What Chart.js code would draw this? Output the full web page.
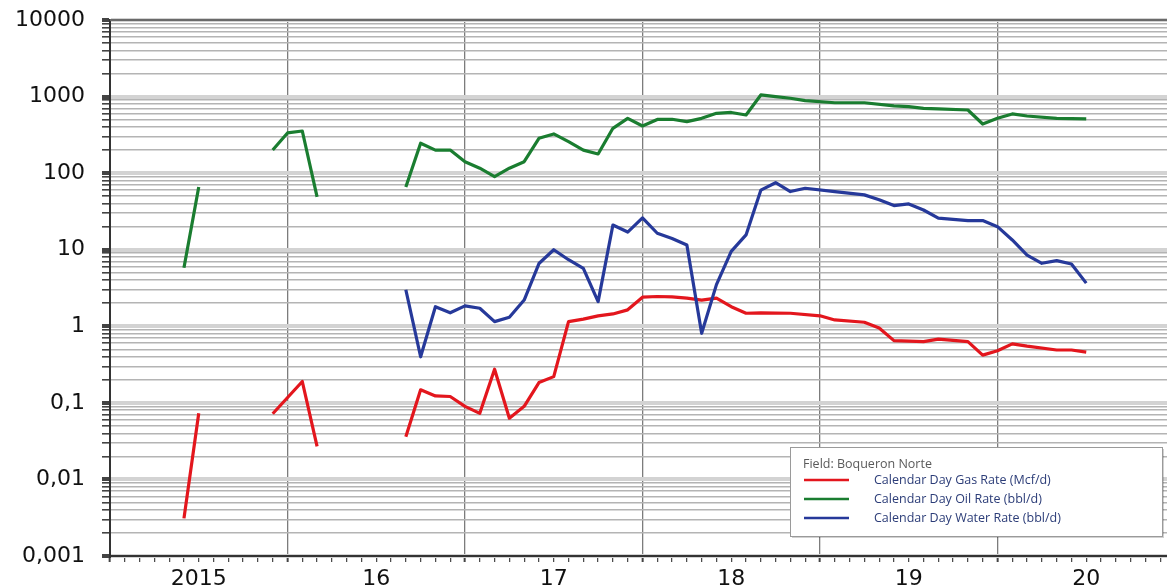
<!DOCTYPE html>
<html>
<head>
<meta charset="utf-8">
<script src="https://cdn.jsdelivr.net/npm/chart.js@4"></script>
<style>
  html, body { margin: 0; padding: 0; background: #fff; }
</style>
</head>
<body>
<canvas id="myChart" width="1167" height="587"></canvas>
<script>
// Months counted from Jan 2015 (0 = Jan 2015). null breaks the line (no production).
const gasMonths = [5, 6, 8, 11, 13, 14, 17,
  20, 21, 22, 23, 24, 25, 26, 27, 28, 29, 30, 31, 32, 33, 34, 35, 36, 37, 38, 39, 40, 41, 42, 43, 44,
  46, 48, 49, 51, 52, 53, 55, 56, 58, 59, 60, 61, 62, 64, 65, 66];
const gasRates = [0.0031, 0.073, null, 0.072, 0.19, 0.027, null,
  0.036, 0.148, 0.123, 0.121, 0.09, 0.073, 0.275, 0.063, 0.09, 0.184, 0.22, 1.15, 1.24, 1.37, 1.45, 1.64, 2.4, 2.45, 2.42, 2.33, 2.2, 2.33, 1.8, 1.48, 1.5,
  1.48, 1.37, 1.21, 1.13, 0.95, 0.65, 0.63, 0.68, 0.63, 0.42, 0.48, 0.59, 0.55, 0.49, 0.49, 0.46];

const oilMonths = [5, 6, 8, 11, 12, 13, 14, 17,
  20, 21, 22, 23, 24, 25, 26, 27, 28, 29, 30, 31, 32, 33, 34, 35, 36, 37, 38, 39, 40, 41, 42, 43, 44, 45, 46, 47,
  49, 51, 53, 54, 55, 56, 58, 59, 60, 61, 62, 64, 66];
const oilRates = [5.8, 66, null, 201, 335, 355, 49, null,
  66, 246, 200, 200, 141, 116, 90, 116, 141, 285, 325, 258, 200, 178, 385, 520, 413, 503, 505, 470, 520, 605, 620, 575, 1050, 1000, 950, 885,
  830, 830, 754, 740, 703, 690, 668, 438, 520, 593, 558, 520, 510];

const waterMonths = [20, 21, 22, 23, 24, 25, 26, 27, 28, 29, 30, 31, 32, 33, 34, 35, 36, 37, 38, 39, 40, 41, 42, 43, 44, 45, 46, 47,
  49, 51, 52, 53, 54, 55, 56, 58, 59, 60, 61, 62, 63, 64, 65, 66];
const waterRates = [3.0, 0.40, 1.8, 1.5, 1.85, 1.72, 1.15, 1.31, 2.2, 6.6, 10, 7.4, 5.7, 2.1, 21, 17, 26, 16.4, 14, 11.5, 0.81, 3.5, 9.5, 15.6, 60, 75, 57.5, 63.5,
  57.5, 52, 45, 37.7, 39.6, 33, 25.8, 24, 24, 20, 13.4, 8.5, 6.65, 7.2, 6.5, 3.66];

// Axis labels
const yearLabels = ["2015", "16", "17", "18", "19", "20"];
const decadeLabels = { "-3": "0,001", "-2": "0,01", "-1": "0,1", "0": "1", "1": "10", "2": "100", "3": "1000", "4": "10000" };
const legendTitle = "Field: Boqueron Norte";

function toPoints(months, rates) {
  return months.map((m, i) => ({ x: m, y: rates[i] }));
}

function isDecade(v) {
  let l = Math.log10(v);
  return Math.abs(l - Math.round(l)) < 1e-9;
}

// top frame line + legend box drawn on the canvas
const framePlugin = {
  id: 'frame',
  afterDraw(chart) {
    let ctx = chart.ctx;
    let a = chart.chartArea;
    ctx.save();
    ctx.strokeStyle = '#6a6a6a';
    ctx.lineWidth = 2;
    ctx.beginPath();
    ctx.moveTo(a.left, a.top);
    ctx.lineTo(a.right, a.top);
    ctx.stroke();

    // legend
    let bx = 790, by = 447, bw = 372, bh = 89;
    ctx.fillStyle = 'rgba(0,0,0,0.18)';
    ctx.fillRect(bx + 2, by + 2, bw, bh);
    ctx.fillStyle = '#fff';
    ctx.fillRect(bx, by, bw, bh);
    ctx.strokeStyle = '#9a9a9a';
    ctx.lineWidth = 1;
    ctx.strokeRect(bx + 0.5, by + 0.5, bw, bh);

    ctx.textBaseline = 'middle';
    ctx.font = '12.5px "Open Sans"';
    ctx.fillStyle = '#5a5a5a';
    ctx.fillText(legendTitle, 803, 464);

    let rowsY = [480, 499, 518];
    chart.data.datasets.forEach((ds, i) => {
      ctx.strokeStyle = ds.borderColor;
      ctx.lineWidth = 2.5;
      ctx.beginPath();
      ctx.moveTo(804, rowsY[i]);
      ctx.lineTo(849, rowsY[i]);
      ctx.stroke();
      ctx.fillStyle = '#2c3d78';
      ctx.font = '12.5px "Open Sans"';
      ctx.fillText(ds.label, 874, rowsY[i]);
    });
    ctx.restore();
  }
};

let ctx = document.getElementById('myChart').getContext('2d');
let myChart = new Chart(ctx, {
  type: 'line',
  data: {
    datasets: [
      { label: 'Calendar Day Gas Rate (Mcf/d)', data: toPoints(gasMonths, gasRates), borderColor: '#e3161d', order: 1 },
      { label: 'Calendar Day Oil Rate (bbl/d)', data: toPoints(oilMonths, oilRates), borderColor: '#1a7d30', order: 2 },
      { label: 'Calendar Day Water Rate (bbl/d)', data: toPoints(waterMonths, waterRates), borderColor: '#26399a', order: 0 }
    ]
  },
  options: {
    responsive: false,
    animation: false,
    spanGaps: false,
    layout: { padding: { top: 20, right: 0, left: 0, bottom: 0 } },
    elements: {
      line: { borderWidth: 3.2, tension: 0, borderJoinStyle: 'round', borderCapStyle: 'butt' },
      point: { radius: 0 }
    },
    plugins: {
      legend: { display: false },
      tooltip: { enabled: false }
    },
    scales: {
      x: {
        type: 'linear',
        min: 0,
        max: 71.46,
        afterBuildTicks(scale) {
          let t = [];
          for (let m = 0; m <= 71; m++) t.push({ value: m });
          scale.ticks = t;
        },
        afterFit(scale) {
          scale.height = 31;
          scale.paddingLeft = 0;
          scale.paddingRight = 0;
        },
        ticks: {
          autoSkip: false,
          maxRotation: 0,
          padding: 4,
          color: '#111',
          font: { family: 'DejaVu Sans', size: 22 },
          callback(v) {
            return v % 12 === 6 ? yearLabels[(v - 6) / 12] : '';
          }
        },
        grid: {
          drawTicks: true,
          tickLength: 6,
          tickColor: '#444',
          tickWidth: c => (c.tick && c.tick.value % 12 === 0 ? 2 : 1.2),
          color: c => (c.tick && c.tick.value % 12 === 0 ? '#7c7c7c' : 'rgba(0,0,0,0)'),
          lineWidth: 1.3
        },
        border: { display: true, color: '#333', width: 2 }
      },
      y: {
        type: 'logarithmic',
        min: 0.001,
        max: 10000,
        afterBuildTicks(scale) {
          let t = [];
          for (let e = -3; e <= 4; e++) {
            for (let k = 1; k <= 9; k++) {
              if (e === 4 && k > 1) break;
              t.push({ value: k * Math.pow(10, e) });
            }
          }
          scale.ticks = t;
        },
        afterFit(scale) {
          scale.width = 110;
          scale.paddingTop = 0;
          scale.paddingBottom = 0;
        },
        ticks: {
          autoSkip: false,
          padding: 17,
          color: '#111',
          font: { family: 'DejaVu Sans', size: 22 },
          callback(v) {
            if (!isDecade(v)) return '';
            return decadeLabels[String(Math.round(Math.log10(v)))];
          }
        },
        grid: {
          drawTicks: true,
          tickLength: 8,
          tickColor: '#444',
          color: c => (c.tick && isDecade(c.tick.value) ? '#d3d3d3' : '#b4b4b4'),
          lineWidth: c => (c.tick && isDecade(c.tick.value) ? 4 : 1.6)
        },
        border: { display: true, color: '#333', width: 2 }
      }
    }
  },
  plugins: [framePlugin]
});
</script>
</body>
</html>
